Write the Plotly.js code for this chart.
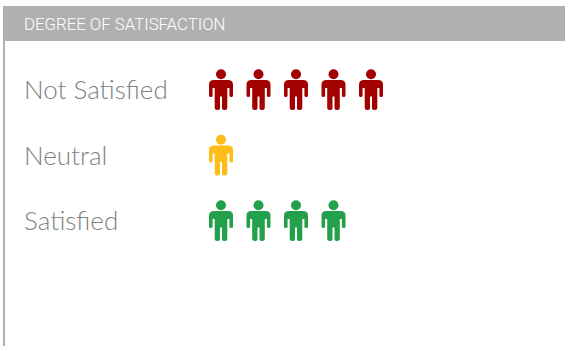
<!DOCTYPE html>
<html>
<head>
<meta charset="utf-8">
<script src="https://cdn.plot.ly/plotly-3.0.0.min.js"></script>
<style>html,body{margin:0;padding:0;background:#fff}#chart{width:565px;height:346px}</style>
</head>
<body>
<div id="chart"></div>
<script>
// Survey responses: one figure per respondent
const titleText = 'DEGREE OF SATISFACTION';
const categories = ['Not Satisfied', 'Neutral', 'Satisfied'];
const counts = [5, 1, 4];
const colors = ['#A30000', '#FDBC18', '#22A04A'];

const W = 565, H = 346;
const panelGrey = '#B0B0B0';

// Figure outline in pixels around its anchor, y pointing up
const bodyPath = [
  'M -7 10 L 7 10',
  'Q 12 10 12 5.5',
  'L 12 -5.5 Q 12 -7 10.2 -7 Q 8.4 -7 8.4 -5.5',
  'L 8.4 2 L 6.3 2',
  'L 6.3 -18 Q 6.3 -20 3.8 -20 Q 1 -20 1 -18',
  'L 1 -6.5 L -1 -6.5',
  'L -1 -18 Q -1 -20 -3.8 -20 Q -6.3 -20 -6.3 -18',
  'L -6.3 2 L -8.4 2',
  'L -8.4 -5.5 Q -8.4 -7 -10.2 -7 Q -12 -7 -12 -5.5',
  'L -12 5.5 Q -12 10 -7 10 Z'
].join(' ');

const traces = [];
const shapes = [
  // header band and left rule
  {type: 'rect', xref: 'paper', yref: 'paper', layer: 'below',
   x0: 3 / W, x1: 1, y0: 1 - 41 / H, y1: 1 - 6 / H,
   fillcolor: panelGrey, line: {width: 0}},
  {type: 'rect', xref: 'paper', yref: 'paper', layer: 'below',
   x0: 3 / W, x1: 5 / W, y0: 0, y1: 1 - 41 / H,
   fillcolor: panelGrey, line: {width: 0}}
];

categories.forEach((cat, row) => {
  const xs = [];
  for (let i = 1; i <= counts[row]; i++) {
    xs.push(i);
    shapes.push({
      type: 'path', layer: 'above',
      xref: 'x', yref: 'y',
      xsizemode: 'pixel', ysizemode: 'pixel',
      xanchor: i, yanchor: row,
      path: bodyPath,
      fillcolor: colors[row], line: {width: 0}
    });
  }
  // heads sit above each body's anchor
  traces.push({
    type: 'scatter', mode: 'markers', name: cat,
    x: xs, y: xs.map(() => row), yaxis: 'y2',
    marker: {symbol: 'circle', size: 10, color: colors[row], line: {width: 0}},
    hoverinfo: 'skip', showlegend: false
  });
});

const rowLabels = categories.map((cat, row) => ({
  text: cat, xref: 'paper', yref: 'y', x: 22 / W, y: row - 0.01,
  xanchor: 'left', yanchor: 'middle', showarrow: false,
  font: {family: 'Lato, sans-serif', size: 26, weight: 300, color: '#808080'}
}));

const titleLabel = {
  text: titleText, xref: 'paper', yref: 'paper', x: 22 / W, y: 1 - 23.5 / H,
  xanchor: 'left', yanchor: 'middle', showarrow: false,
  font: {family: 'Roboto, sans-serif', size: 16.8, weight: 300, color: '#FFFFFF'}
};

// One row is 65.5px and one column 37.5px; first figure sits at x=221, first row at y=90
const xRange = [1 - 221 / 37.5, 1 + (W - 221) / 37.5];
const yRange = [(H - 90) / 65.5, -90 / 65.5];
const hiddenAxis = {showgrid: false, zeroline: false, showticklabels: false, ticks: '', showline: false, fixedrange: true};

Plotly.newPlot('chart', traces, {
  width: W, height: H,
  margin: {l: 0, r: 0, t: 0, b: 0},
  paper_bgcolor: '#FFFFFF', plot_bgcolor: 'rgba(0,0,0,0)',
  xaxis: Object.assign({range: xRange}, hiddenAxis),
  yaxis: Object.assign({range: yRange}, hiddenAxis),
  // heads use a twin axis shifted 15.7px upward
  yaxis2: Object.assign({overlaying: 'y', range: [yRange[0] + 15.7 / 65.5, yRange[1] + 15.7 / 65.5]}, hiddenAxis),
  shapes: shapes,
  annotations: rowLabels.concat([titleLabel]),
  showlegend: false
}, {displayModeBar: false, staticPlot: true});
</script>
</body>
</html>
